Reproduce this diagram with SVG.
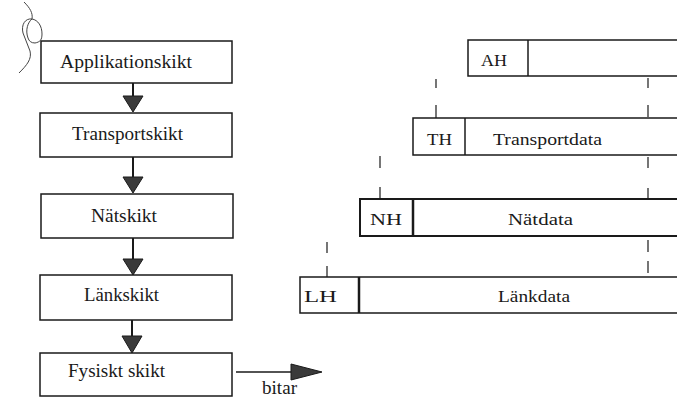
<svg xmlns="http://www.w3.org/2000/svg" width="677" height="398" viewBox="0 0 677 398">
  <style>
    .box { fill: #fff; stroke: #1a1a1a; stroke-width: 1.5; }
    .lbl { font-family: "Liberation Serif", "DejaVu Serif", serif; font-size: 18px; fill: #1a1a1a; }
    .hdr { font-family: "Liberation Serif", "DejaVu Serif", serif; font-size: 17.5px; fill: #1a1a1a; }
    .edge { stroke: #1a1a1a; stroke-width: 2; fill: none; }
    .head { fill: #3a3a3a; stroke: #1a1a1a; stroke-width: 1; }
    .dash { stroke: #1a1a1a; stroke-width: 1.2; }
    .div { stroke: #1a1a1a; stroke-width: 1.5; }
    .div2 { stroke: #1a1a1a; stroke-width: 2.5; }
  </style>

  <!-- pen scribble in the corner -->
  <path d="M24,2 C30,8 33,13 32,19 C25,18 21,25 23,33 C25,39 28,45 30,51 C32,59 27,65 19,73 M32,19 C38,20 42,26 42,34 C42,40 40,42 35,43 C31,43 29,41 28,38 C25,30 28,22 32,19"
        fill="none" stroke="#444" stroke-width="1"/>

  <!-- protocol layer stack -->
  <g id="applikationskikt">
    <rect class="box" x="41" y="41" width="191" height="42"/>
    <text class="lbl" x="60" y="68" textLength="132" lengthAdjust="spacingAndGlyphs">Applikationskikt</text>
  </g>
  <g id="transportskikt">
    <rect class="box" x="40" y="113" width="192" height="44"/>
    <text class="lbl" x="72" y="140" textLength="111" lengthAdjust="spacingAndGlyphs">Transportskikt</text>
  </g>
  <g id="natskikt">
    <rect class="box" x="41" y="194" width="192" height="44"/>
    <text class="lbl" x="91" y="222" textLength="66" lengthAdjust="spacingAndGlyphs">Nätskikt</text>
  </g>
  <g id="lankskikt">
    <rect class="box" x="40" y="275" width="192" height="45"/>
    <text class="lbl" x="84" y="301" textLength="75" lengthAdjust="spacingAndGlyphs">Länkskikt</text>
  </g>
  <g id="fysiskt-skikt">
    <rect class="box" x="40" y="353" width="192" height="43"/>
    <text class="lbl" x="68" y="377" textLength="97" lengthAdjust="spacingAndGlyphs">Fysiskt skikt</text>
  </g>

  <!-- encapsulated frames -->
  <g id="ah-frame">
    <path class="box" d="M677,40 H468 V76 H677"/>
    <line class="div" x1="528" y1="40" x2="528" y2="76"/>
    <text class="hdr" x="481" y="66" textLength="26" lengthAdjust="spacingAndGlyphs">AH</text>
  </g>
  <g id="th-frame">
    <path class="box" d="M677,118 H413 V155 H677"/>
    <line class="div" x1="465" y1="118" x2="465" y2="155"/>
    <text class="hdr" x="427" y="145" textLength="25" lengthAdjust="spacingAndGlyphs">TH</text>
    <text class="hdr" x="493" y="145" textLength="109" lengthAdjust="spacingAndGlyphs">Transportdata</text>
  </g>
  <g id="nh-frame">
    <path class="box" d="M677,199 H360 V236 H677" style="stroke-width:2"/>
    <line class="div2" x1="413" y1="199" x2="413" y2="236"/>
    <text class="hdr" x="370" y="225" textLength="32" lengthAdjust="spacingAndGlyphs">NH</text>
    <text class="hdr" x="508" y="225" textLength="65" lengthAdjust="spacingAndGlyphs">Nätdata</text>
  </g>
  <g id="lh-frame">
    <path class="box" d="M677,277 H300 V313 H677"/>
    <line class="div2" x1="359" y1="277" x2="359" y2="313"/>
    <text class="hdr" x="304" y="302" textLength="33" lengthAdjust="spacingAndGlyphs">LH</text>
    <text class="hdr" x="498" y="302" textLength="72" lengthAdjust="spacingAndGlyphs">Länkdata</text>
  </g>

  <g id="connectors">
    <!-- downward arrows between layers -->
    <line class="edge" x1="133" y1="83" x2="133" y2="96"/>
    <path class="head" d="M123,96 H143 L133,112 Z"/>
    <line class="edge" x1="133" y1="157" x2="133" y2="177"/>
    <path class="head" d="M123,177 H143 L133,193 Z"/>
    <line class="edge" x1="133" y1="238" x2="133" y2="259"/>
    <path class="head" d="M123,259 H143 L133,275 Z"/>
    <line class="edge" x1="132" y1="320" x2="132" y2="336"/>
    <path class="head" d="M122,336 H142 L132,353 Z"/>

    <!-- bit stream out of the physical layer -->
    <line class="edge" x1="236" y1="372" x2="292" y2="372" style="stroke-width:1.5"/>
    <path class="head" d="M291,364 L322,372 L291,380 Z"/>
    <text class="lbl" x="262" y="394" textLength="35" lengthAdjust="spacingAndGlyphs">bitar</text>

    <!-- dashed guides marking frame boundaries -->
    <line class="dash" x1="436" y1="79" x2="436" y2="88"/>
    <line class="dash" x1="436" y1="105" x2="436" y2="118"/>
    <line class="dash" x1="648" y1="78" x2="648" y2="88"/>
    <line class="dash" x1="648" y1="105" x2="648" y2="117"/>

    <line class="dash" x1="380" y1="156" x2="380" y2="168"/>
    <line class="dash" x1="380" y1="187" x2="380" y2="199"/>
    <line class="dash" x1="648" y1="157" x2="648" y2="168"/>
    <line class="dash" x1="648" y1="188" x2="648" y2="199"/>

    <line class="dash" x1="327" y1="242" x2="327" y2="253"/>
    <line class="dash" x1="327" y1="266" x2="327" y2="277"/>
    <line class="dash" x1="648" y1="240" x2="648" y2="252"/>
    <line class="dash" x1="648" y1="261" x2="648" y2="273"/>
  </g>
</svg>
